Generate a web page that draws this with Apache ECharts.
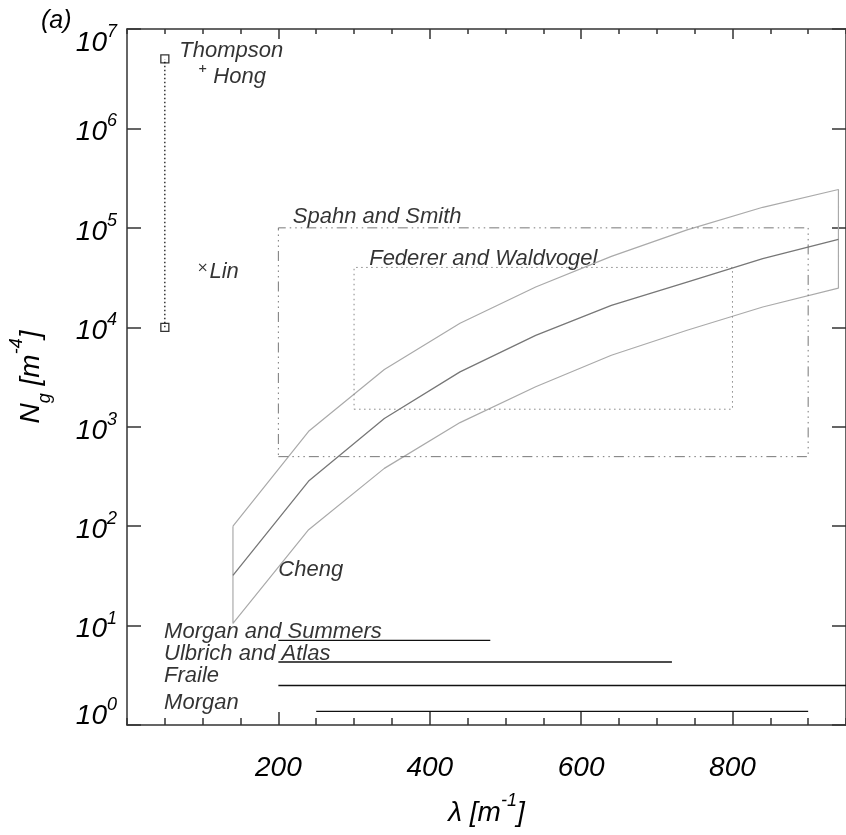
<!DOCTYPE html>
<html>
<head>
<meta charset="utf-8">
<script src="https://cdn.jsdelivr.net/npm/echarts@6/dist/echarts.min.js"></script>
<style>
  html, body { margin: 0; padding: 0; background: #fff; }
  #chart { width: 846px; height: 835px; }
</style>
</head>
<body>
<div id="chart"></div>
<script>
// Cheng: size-distribution intercept vs. slope, central fit and its envelope
const lambdaNodes = [140, 240, 340, 440, 540, 640, 740, 840, 940];
const chengMid   = [32, 284, 1210, 3560, 8300, 16600, 28500, 49000, 76500];
const chengUpper = [100, 900, 3760, 11000, 25400, 51600, 95500, 161000, 243000];
const chengLower = [10.5, 92, 381, 1100, 2520, 5230, 9330, 16000, 24800];

// Thompson: fixed slope, range of intercepts
const thompsonLambda = 50;
const thompsonN = [1e4, 5e6];

// single-point parameterisations
const hongPoint = [100, 4e6];
const linPoint = [100, 4e4];

// observed ranges drawn as boxes
const spahnLambda = [200, 900];
const spahnN = [500, 1e5];
const federerLambda = [300, 800];
const federerN = [1500, 4e4];

// slope ranges only (drawn at a nominal intercept)
const rangeNames = ['Morgan and Summers', 'Ulbrich and Atlas', 'Fraile', 'Morgan'];
const rangeFrom = [200, 200, 200, 250];
const rangeTo = [480, 720, 950, 900];
const rangeN = [7.1, 4.3, 2.5, 1.37];

// axis ticks
const xMajorTicks = [200, 400, 600, 800];

const FONT = '"Liberation Sans", Arial, Helvetica, sans-serif';
const AXIS_COLOR = '#333';
const axisLineStyle = { color: AXIS_COLOR, width: 1.5 };

function boxPath(xs, ys) {
  return [[xs[0], ys[0]], [xs[1], ys[0]], [xs[1], ys[1]], [xs[0], ys[1]], [xs[0], ys[0]]];
}

function lineSeries(data, color, width, type) {
  return {
    type: 'line', data: data, symbol: 'none', silent: true, animation: false,
    lineStyle: { color: color, width: width, type: type || 'solid' }
  };
}

// envelope outline: upper branch, down the right edge, lower branch back, up the left edge
const envelope = lambdaNodes.map((l, i) => [l, chengUpper[i]])
  .concat(lambdaNodes.map((l, i) => [l, chengLower[i]]).reverse())
  .concat([[lambdaNodes[0], chengUpper[0]]]);
const middle = lambdaNodes.map((l, i) => [l, chengMid[i]]);

const txt = (size) => ({ fontSize: size, fontStyle: 'italic', fontFamily: FONT, color: '#000' });

// text notes, anchored at their left-middle point in data units
const notes = [
  { name: 'Thompson', value: [69, 6.0e6] },
  { name: 'Hong', value: [114, 3.3e6] },
  { name: 'Lin', value: [109, 3.6e4] },
  { name: 'Spahn and Smith', value: [219, 1.3e5] },
  { name: 'Federer and Waldvogel', value: [320, 4.86e4] },
  { name: 'Cheng', value: [200, 36] },
  { name: rangeNames[0], value: [49, 8.7] },
  { name: rangeNames[1], value: [49, 5.2] },
  { name: rangeNames[2], value: [49, 3.1] },
  { name: rangeNames[3], value: [49, 1.68] }
];

const series = [
  lineSeries(envelope, '#aaa', 1.2),
  lineSeries(middle, '#777', 1.3),
  lineSeries(boxPath(spahnLambda, spahnN), '#777', 1, [10, 4, 1.5, 4, 1.5, 4, 1.5, 4]),
  lineSeries(boxPath(federerLambda, federerN), '#888', 1, [1.5, 3.5]),
  lineSeries([[thompsonLambda, thompsonN[0]], [thompsonLambda, thompsonN[1]]], '#000', 1.2, [1.5, 2.5])
];
rangeNames.forEach((n, i) => {
  series.push(lineSeries([[rangeFrom[i], rangeN[i]], [rangeTo[i], rangeN[i]]], '#111', 1.4));
});
series.push({
  type: 'scatter', silent: true, animation: false,
  data: thompsonN.map(v => [thompsonLambda, v]),
  symbol: 'rect', symbolSize: 8,
  itemStyle: { color: 'rgba(0,0,0,0)', borderColor: '#000', borderWidth: 1.3 }
});
series.push({
  type: 'scatter', silent: true, animation: false,
  data: [hongPoint],
  symbol: 'path://M5,0L5,10M0,5L10,5', symbolSize: 7,
  itemStyle: { color: 'rgba(0,0,0,0)', borderColor: '#000', borderWidth: 1.2 }
});
series.push({
  type: 'scatter', silent: true, animation: false,
  data: [linPoint],
  symbol: 'path://M0,0L10,10M10,0L0,10', symbolSize: 7,
  itemStyle: { color: 'rgba(0,0,0,0)', borderColor: '#000', borderWidth: 1.2 }
});
series.push({
  type: 'scatter', silent: true, animation: false,
  data: notes, symbolSize: 0,
  label: {
    show: true, position: 'right', distance: 0, formatter: '{b}',
    fontSize: 22, fontStyle: 'italic', fontFamily: FONT, color: '#000'
  }
});

// y tick labels: "10" with a raised exponent. The pair sits a little below
// its tick; the lowest label is lifted and the highest dropped so both stay
// inside the frame.
const yRich = {
  b:  Object.assign(txt(28), { lineHeight: 36, verticalAlign: 'bottom' }),
  s:  Object.assign(txt(18), { lineHeight: 18, verticalAlign: 'top', padding: [2, 0, 0, 0] }),
  b0: Object.assign(txt(28), { lineHeight: 58, verticalAlign: 'top', padding: [6, 0, 0, 0] }),
  s0: Object.assign(txt(18), { lineHeight: 18, verticalAlign: 'top' }),
  b7: Object.assign(txt(28), { lineHeight: 56, verticalAlign: 'bottom' }),
  s7: Object.assign(txt(18), { lineHeight: 18, verticalAlign: 'top', padding: [22, 0, 0, 0] })
};

const xBase = { type: 'value', min: 0, max: 950, splitLine: { show: false } };
const yBase = { type: 'log', logBase: 10, min: 1, max: 1e7, splitNumber: 7, splitLine: { show: false }, minorTick: { show: false } };

const option = {
  backgroundColor: '#fff',
  animation: false,
  grid: { left: 126, right: -2, top: 29, bottom: 110, containLabel: false },
  xAxis: [
    Object.assign({}, xBase, {
      position: 'bottom', interval: 200,
      axisLine: { show: true, onZero: false, lineStyle: axisLineStyle },
      axisTick: { show: true, inside: true, length: 13, customValues: xMajorTicks, lineStyle: axisLineStyle },
      axisLabel: {
        show: true, customValues: xMajorTicks, margin: 29,
        fontSize: 28, fontStyle: 'italic', fontFamily: FONT, color: '#000'
      },
      name: '{t|λ [m}{s|-1}{t|]}', nameLocation: 'middle', nameGap: 67,
      nameTextStyle: {
        fontSize: 28, fontStyle: 'italic', fontFamily: FONT, color: '#000',
        rich: {
          t: Object.assign(txt(28), { lineHeight: 42 }),
          s: Object.assign(txt(18), { lineHeight: 18, verticalAlign: 'top' })
        }
      }
    }),
    Object.assign({}, xBase, {
      position: 'bottom', interval: 50,
      axisLine: { show: false, onZero: false },
      axisTick: { show: true, inside: true, length: 7, lineStyle: axisLineStyle },
      axisLabel: { show: false }
    }),
    Object.assign({}, xBase, {
      position: 'top', interval: 200,
      axisLine: { show: true, onZero: false, lineStyle: axisLineStyle },
      axisTick: { show: true, inside: true, length: 10, customValues: xMajorTicks, lineStyle: axisLineStyle },
      axisLabel: { show: false }
    }),
    Object.assign({}, xBase, {
      position: 'top', interval: 50,
      axisLine: { show: false, onZero: false },
      axisTick: { show: true, inside: true, length: 5, lineStyle: axisLineStyle },
      axisLabel: { show: false }
    })
  ],
  yAxis: [
    Object.assign({}, yBase, {
      position: 'left',
      axisLine: { show: true, onZero: false, lineStyle: axisLineStyle },
      axisTick: { show: true, inside: true, length: 14, lineStyle: axisLineStyle },
      axisLabel: {
        show: true, margin: 10,
        formatter: function (v) {
          const e = Math.round(Math.log10(v));
          const k = e === 0 ? '0' : (e === 7 ? '7' : '');
          return '{b' + k + '|10}{s' + k + '|' + e + '}';
        },
        rich: yRich
      },
      name: '{t|N}{sub|g}{t| [m}{sup|-4}{t|]}', nameLocation: 'middle', nameGap: 73,
      nameTextStyle: {
        fontSize: 28, fontStyle: 'italic', fontFamily: FONT, color: '#000',
        rich: {
          t: Object.assign(txt(28), { lineHeight: 46 }),
          sub: Object.assign(txt(18), { lineHeight: 18, verticalAlign: 'bottom' }),
          sup: Object.assign(txt(18), { lineHeight: 18, verticalAlign: 'top' })
        }
      }
    }),
    Object.assign({}, yBase, {
      position: 'right',
      axisLine: { show: true, onZero: false, lineStyle: axisLineStyle },
      axisTick: { show: true, inside: true, length: 14, lineStyle: axisLineStyle },
      axisLabel: { show: false }
    })
  ],
  graphic: [{
    type: 'text', left: 41, top: 9,
    style: { text: '(a)', fontSize: 25, fontStyle: 'italic', fontFamily: FONT, fill: '#000' }
  }],
  series: series
};

const chart = echarts.init(document.getElementById('chart'), null, { renderer: 'canvas' });
chart.setOption(option);
</script>
</body>
</html>
